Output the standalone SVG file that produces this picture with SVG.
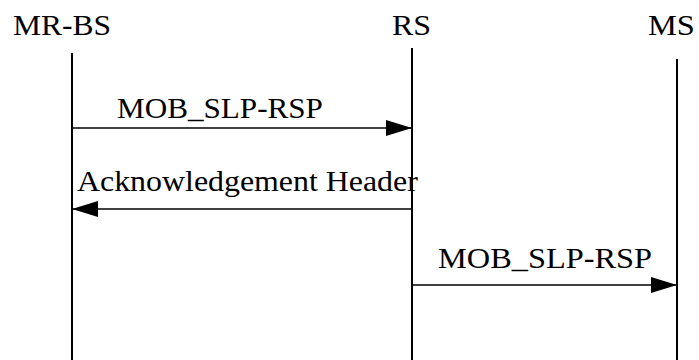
<svg xmlns="http://www.w3.org/2000/svg" width="699" height="360" viewBox="0 0 699 360">
<style>
text{font-family:"Liberation Serif","Times New Roman",serif;font-size:29px;fill:#000}
.life{stroke:#000;stroke-width:2;fill:none}
.msg{stroke:#000;stroke-width:1.5;fill:none}
</style>
<defs>
<marker id="ah" markerUnits="userSpaceOnUse" markerWidth="26" markerHeight="18" refX="26" refY="9" orient="auto">
<path d="M0,1 L26,9 L0,17 Z" fill="#000"/>
</marker>
</defs>
<g id="mrbs">
<text transform="translate(13,35) scale(1.086,1)">MR-BS</text>
<line class="life" x1="72" y1="53" x2="72" y2="360"/>
</g>
<g id="rs">
<text transform="translate(392,35) scale(1.1,1)">RS</text>
<line class="life" x1="412" y1="48" x2="412" y2="360"/>
</g>
<g id="ms">
<text transform="translate(648,35) scale(1.12,1)">MS</text>
<line class="life" x1="677" y1="59" x2="677" y2="360"/>
</g>
<g id="connectors">
<line class="msg" x1="72" y1="128" x2="412" y2="128" marker-end="url(#ah)"/>
<text transform="translate(117,118) scale(1.074,1)">MOB_SLP-RSP</text>
<line class="msg" x1="412" y1="209" x2="72" y2="209" marker-end="url(#ah)"/>
<text transform="translate(77,191) scale(1.1,1)">Acknowledgement Header</text>
<line class="msg" x1="412" y1="285" x2="677" y2="285" marker-end="url(#ah)"/>
<text transform="translate(438,268) scale(1.116,1)">MOB_SLP-RSP</text>
</g>
</svg>
